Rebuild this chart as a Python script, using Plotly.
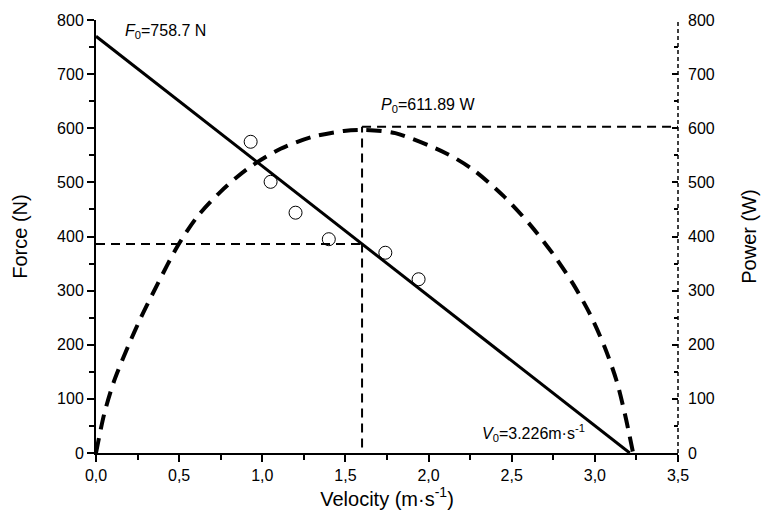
import plotly.graph_objects as go

# Measured data points (velocity m/s, force N)
obs_velocity = [0.93, 1.05, 1.20, 1.40, 1.74, 1.94]
obs_force = [575, 501, 444, 395, 370, 321]

# Force-velocity regression line endpoints
fv_velocity = [0.0, 3.21]
fv_force = [770, 0]

# Power-velocity curve
pv_velocity = [0, 0.05, 0.11, 0.19, 0.27, 0.37, 0.49, 0.61, 0.75, 0.91, 1.11, 1.30,
               1.49, 1.60, 1.80, 2.11, 2.27, 2.45, 2.61, 2.75, 2.87, 2.97, 3.06, 3.13, 3.18, 3.23]
pv_power = [0, 73, 134, 195, 250, 312, 382, 437, 483, 525, 562, 584,
            595, 597, 591, 553, 523, 475, 422, 367, 312, 257, 195, 134, 73, 0]

# Optimal point reference lines
v_opt = 1.6
f_opt = 386
p_opt = 603

x_ticks = [0, 0.5, 1.0, 1.5, 2.0, 2.5, 3.0, 3.5]
x_ticklabels = ["0,0", "0,5", "1,0", "1,5", "2,0", "2,5", "3,0", "3,5"]
y_ticks = [0, 100, 200, 300, 400, 500, 600, 700, 800]

FONT = "Liberation Sans, Arial, sans-serif"

fig = go.Figure()

# reference dashed lines
fig.add_trace(go.Scatter(x=[0, v_opt], y=[f_opt, f_opt], mode="lines",
                         line=dict(color="black", width=2, dash="9px,6px"),
                         showlegend=False, hoverinfo="skip"))
fig.add_trace(go.Scatter(x=[v_opt, v_opt], y=[10, p_opt], mode="lines", yaxis="y2",
                         line=dict(color="black", width=2, dash="9px,6px"),
                         showlegend=False, hoverinfo="skip"))
fig.add_trace(go.Scatter(x=[v_opt, 3.5], y=[p_opt, p_opt], mode="lines", yaxis="y2",
                         line=dict(color="black", width=2, dash="9px,6px"),
                         showlegend=False, hoverinfo="skip"))

# power curve
fig.add_trace(go.Scatter(x=pv_velocity, y=pv_power, mode="lines", yaxis="y2",
                         line=dict(color="black", width=4, dash="15px,9px", shape="spline",
                                   smoothing=0.8),
                         showlegend=False))

# force line
fig.add_trace(go.Scatter(x=fv_velocity, y=fv_force, mode="lines",
                         line=dict(color="black", width=3),
                         showlegend=False))

# observations
fig.add_trace(go.Scatter(x=obs_velocity, y=obs_force, mode="markers",
                         marker=dict(symbol="circle-open", size=13,
                                     color="black", line=dict(width=1, color="black")),
                         showlegend=False))

# right dashed axis line
fig.add_shape(type="line", xref="paper", yref="paper", x0=1, x1=1, y0=0, y1=1,
              line=dict(color="black", width=1.5, dash="4px,3px"))

fig.update_layout(
    width=761, height=513,
    margin=dict(l=96, r=83, t=20, b=60, autoexpand=False),
    paper_bgcolor="white", plot_bgcolor="white",
    font=dict(family=FONT, size=16, color="black"),
    xaxis=dict(range=[0, 3.5], tickvals=x_ticks, ticktext=x_ticklabels,
               showline=True, linecolor="black", linewidth=2, automargin=False,
               ticks="outside", ticklen=7, tickwidth=1.5, tickcolor="black",
               minor=dict(ticks="outside", ticklen=5, tickwidth=1.5, tickcolor="black", dtick=0.25),
               showgrid=False, zeroline=False,
               title=dict(text="Velocity (m·s<sup>-1</sup>)", font=dict(size=20), standoff=6),
               tickfont=dict(size=16)),
    yaxis=dict(range=[0, 800], tickvals=y_ticks, automargin=False,
               showline=True, linecolor="black", linewidth=2,
               ticks="outside", ticklen=7, tickwidth=1.5, tickcolor="black",
               minor=dict(ticks="outside", ticklen=5, tickwidth=1.5, tickcolor="black", dtick=50),
               showgrid=False, zeroline=False,
               title=dict(text="Force (N)", font=dict(size=20), standoff=24),
               tickfont=dict(size=16)),
    yaxis2=dict(range=[0, 800], tickvals=y_ticks, overlaying="y", side="right",
                showline=False, automargin=False,
                ticks="inside", ticklen=6, tickwidth=1.5, tickcolor="black",
                minor=dict(ticks="inside", ticklen=4, tickwidth=1.5, tickcolor="black", dtick=50),
                showgrid=False, zeroline=False, ticklabelstandoff=9,
                title=dict(text="Power (W)", font=dict(size=20), standoff=28),
                tickfont=dict(size=16)),
    annotations=[
        dict(x=0.16, y=778, xref="x", yref="y", xanchor="left", yanchor="middle",
             text="<i>F</i><sub>0</sub>=758.7 N", showarrow=False, font=dict(size=16)),
        dict(x=1.70, y=642, xref="x", yref="y2", xanchor="left", yanchor="middle",
             text="<i>P</i><sub>0</sub>=611.89 W", showarrow=False, font=dict(size=16)),
        dict(x=2.31, y=37, xref="x", yref="y", xanchor="left", yanchor="middle",
             text="<i>V</i><sub>0</sub>=3.226m·s<sup>-1</sup>", showarrow=False, font=dict(size=16)),
    ],
)

fig.write_html("out.html")
